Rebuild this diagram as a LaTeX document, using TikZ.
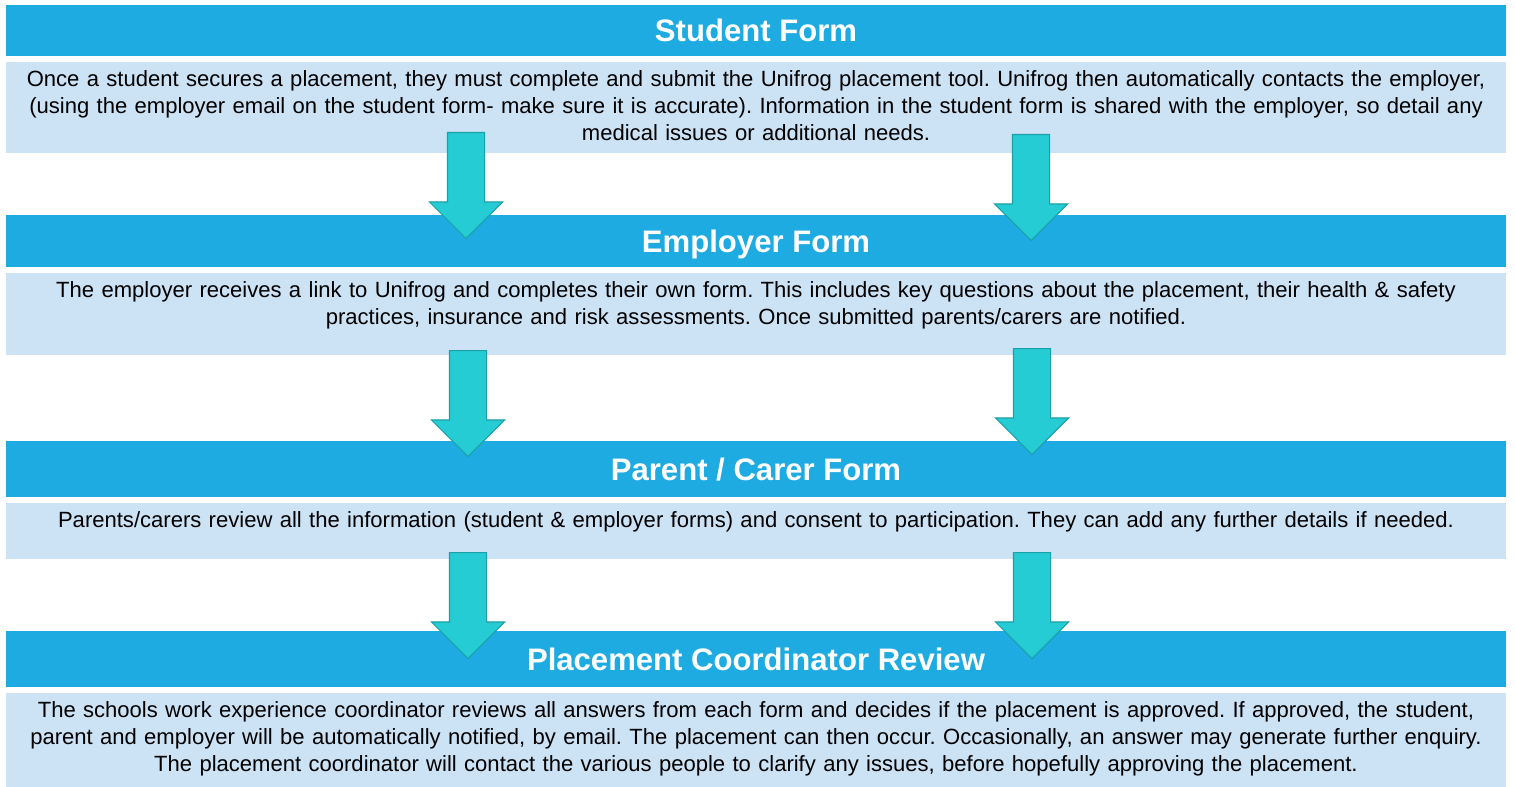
\documentclass[tikz,border=0pt]{standalone}
\usepackage{fontspec}
\setmainfont{Liberation Sans}
\usetikzlibrary{shapes.arrows}

\definecolor{headblue}{RGB}{30,171,226}
\definecolor{bodyblue}{RGB}{204,226,245}
\definecolor{arrowfill}{RGB}{38,204,212}
\definecolor{arrowline}{RGB}{27,160,168}

\frenchspacing

\begin{document}
\begin{tikzpicture}[x=0.02cm, y=-0.02cm,
    header/.style={rectangle, fill=headblue, minimum width=30cm, inner sep=0pt, text height=12.7pt, text depth=0pt, text=white, font=\bfseries\fontsize{17.7}{20}\selectfont},
    body/.style={rectangle, fill=bodyblue, minimum width=30cm, inner sep=0pt},
    bodytext/.style={anchor=north, inner sep=0pt, text width=29.9cm, align=center, font=\fontsize{12.55}{15.4}\selectfont},
    flow/.style={single arrow, draw=arrowline, fill=arrowfill, line width=0.6pt, minimum width=1.44cm, minimum height=2.12cm, single arrow head extend=0.36cm, inner xsep=0pt, inner ysep=0.36cm, rotate=-90, anchor=tail}
]
    \useasboundingbox (0,0) rectangle (1515,787);

    % Stage headers
    \node[header, minimum height=1.02cm] (student) at (756,30.5) {Student Form};
    \node[header, minimum height=1.04cm] (employer) at (756,241) {Employer Form};
    \node[header, minimum height=1.12cm] (parent) at (756,469) {Parent / Carer Form};
    \node[header, minimum height=1.12cm] (review) at (756,659) {Placement Coordinator Review};

    % Stage bodies
    \node[body, minimum height=1.82cm] (studentbody) at (756,107.5) {};
    \node[body, minimum height=1.64cm] (employerbody) at (756,314) {};
    \node[body, minimum height=1.12cm] (parentbody) at (756,531) {};
    \node[body, minimum height=1.88cm] (reviewbody) at (756,740) {};

    % Body texts
    \node[bodytext] (studenttxt) at ([yshift=-0.17cm]studentbody.north) {Once a student secures a placement, they must complete and submit the Unifrog placement tool. Unifrog then automatically contacts the employer,\\ (using the employer email on the student form- make sure it is accurate). Information in the student form is shared with the employer, so detail any\\ medical issues or additional needs.};
    \node[bodytext] (employertxt) at ([yshift=-0.17cm]employerbody.north) {The employer receives a link to Unifrog and completes their own form. This includes key questions about the placement, their health \& safety\\ practices, insurance and risk assessments. Once submitted parents/carers are notified.};
    \node[bodytext] (parenttxt) at ([yshift=-0.17cm]parentbody.north) {Parents/carers review all the information (student \& employer forms) and consent to participation. They can add any further details if needed.};
    \node[bodytext] (reviewtxt) at ([yshift=-0.17cm]reviewbody.north) {The schools work experience coordinator reviews all answers from each form and decides if the placement is approved. If approved, the student,\\ parent and employer will be automatically notified, by email. The placement can then occur. Occasionally, an answer may generate further enquiry.\\ The placement coordinator will contact the various people to clarify any issues, before hopefully approving the placement.};

    % Down arrows
    \node[flow] (se1) at (466,132) {};
    \node[flow] (se2) at (1031,134) {};
    \node[flow] (ep1) at (468,350) {};
    \node[flow] (ep2) at (1032,348) {};
    \node[flow] (pr1) at (468,552) {};
    \node[flow] (pr2) at (1032,552) {};
\end{tikzpicture}
\end{document}
